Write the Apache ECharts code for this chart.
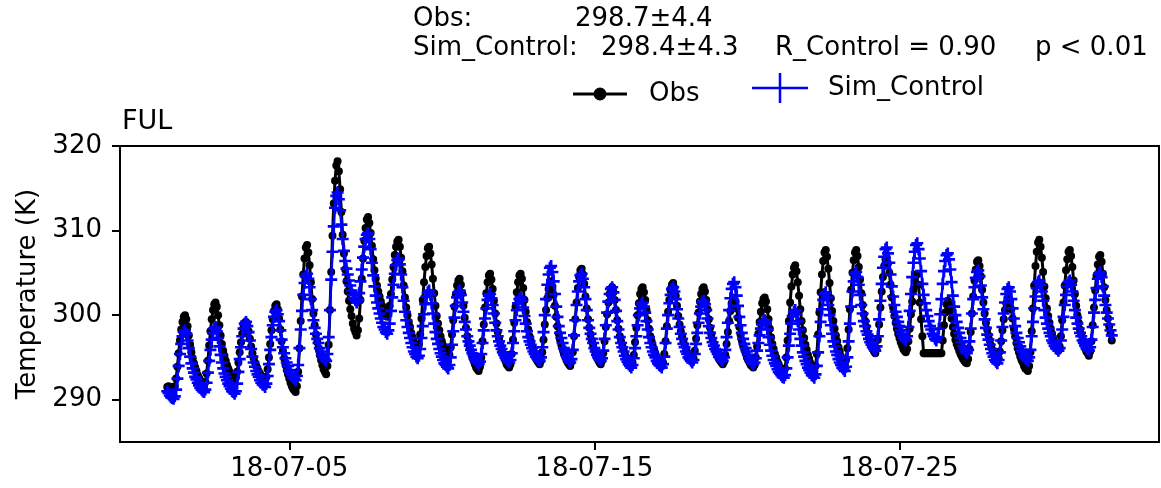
<!DOCTYPE html>
<html><head><meta charset="utf-8">
<script src="https://cdn.jsdelivr.net/npm/echarts@6/dist/echarts.min.js"></script>
<style>html,body{margin:0;padding:0;background:#fff}#chart{width:1161px;height:488px}</style>
</head><body><div id="chart"></div>
<script>
// hourly series starting 2018-07-01 00:00 (x = hours since start)
const tickHours = [96, 336, 576];
const tickLabels = ['18-07-05', '18-07-15', '18-07-25'];
const yTicks = [290, 300, 310, 320];
const headerObs = ['Obs:', '298.7±4.4'];
const headerSim = ['Sim_Control:', '298.4±4.3', 'R_Control = 0.90', 'p < 0.01'];
const siteName = 'FUL';

const obsDaily = [
[291.5,291.6,291.5,291.4,291.3,291.3,291.6,292.5,293.9,295.5,297.0,298.3,299.2,299.8,300.0,299.5,298.7,297.6,296.5,295.6,294.9,294.3,293.8,293.4],
[292.9,292.6,292.3,292.0,291.9,291.7,292.1,293.1,294.6,296.4,298.1,299.5,300.6,301.3,301.5,301.0,300.0,298.8,297.6,296.6,295.8,295.2,294.6,294.1],
[293.7,293.3,293.0,292.7,292.5,292.3,292.6,293.3,294.4,295.6,296.8,297.8,298.6,299.1,299.2,298.8,298.1,297.2,296.3,295.5,294.9,294.4,294.0,293.7],
[293.3,293.1,292.8,292.6,292.4,292.3,292.7,293.6,295.0,296.6,298.2,299.5,300.5,301.1,301.3,300.7,299.6,298.3,296.9,295.8,294.9,294.1,293.5,293.0],
[292.5,292.0,291.6,291.3,291.1,290.9,291.6,293.3,296.1,299.3,302.2,304.8,306.7,308.0,308.3,307.4,305.9,303.9,301.9,300.2,298.8,297.7,296.8,296.1],
[295.3,294.7,294.1,293.6,293.3,293.0,294.0,296.5,300.6,305.1,309.4,313.2,315.9,317.7,318.2,317.0,314.9,312.2,309.5,307.3,305.4,304.0,302.8,301.7],
[300.7,299.9,299.0,298.4,298.0,297.6,298.2,299.6,301.8,304.3,306.7,308.8,310.3,311.3,311.6,310.9,309.7,308.2,306.6,305.3,304.3,303.5,302.8,302.2],
[301.6,301.1,300.6,300.3,300.0,299.8,300.2,301.1,302.5,304.2,305.7,307.1,308.1,308.7,308.9,308.1,306.8,305.2,303.5,302.1,300.9,300.0,299.2,298.6],
[297.9,297.4,296.9,296.5,296.3,296.0,296.5,297.7,299.6,301.8,303.9,305.7,307.0,307.9,308.1,307.3,306.0,304.3,302.6,301.1,299.9,299.0,298.2,297.5],
[296.9,296.4,295.8,295.4,295.2,294.9,295.3,296.2,297.7,299.4,301.0,302.4,303.5,304.1,304.3,303.6,302.6,301.1,299.7,298.5,297.5,296.8,296.1,295.6],
[295.0,294.6,294.2,293.8,293.6,293.4,293.9,295.0,296.9,298.9,300.9,302.6,303.9,304.7,304.9,304.2,303.1,301.7,300.2,299.0,298.0,297.2,296.6,296.0],
[295.5,295.0,294.6,294.2,294.0,293.8,294.2,295.4,297.1,299.1,301.0,302.7,303.9,304.7,304.9,304.3,303.2,301.8,300.4,299.2,298.3,297.5,296.9,296.3],
[295.8,295.4,294.9,294.6,294.4,294.2,294.6,295.6,297.1,298.9,300.6,302.0,303.1,303.8,304.0,303.4,302.4,301.1,299.8,298.7,297.8,297.1,296.5,296.0],
[295.5,295.1,294.7,294.4,294.2,294.0,294.5,295.6,297.5,299.5,301.5,303.2,304.5,305.3,305.5,304.8,303.7,302.2,300.8,299.5,298.5,297.7,297.0,296.5],
[295.9,295.4,295.0,294.7,294.4,294.2,294.6,295.5,296.9,298.6,300.1,301.5,302.5,303.1,303.3,302.7,301.8,300.6,299.4,298.4,297.5,296.9,296.3,295.9],
[295.4,295.0,294.7,294.4,294.2,294.0,294.4,295.3,296.8,298.5,300.0,301.4,302.5,303.1,303.3,302.7,301.8,300.6,299.4,298.4,297.5,296.9,296.3,295.9],
[295.4,295.0,294.7,294.4,294.2,294.0,294.4,295.4,296.9,298.7,300.4,301.8,302.9,303.6,303.8,303.2,302.3,301.1,299.9,298.9,298.1,297.5,296.9,296.4],
[296.0,295.6,295.2,295.0,294.8,294.6,294.9,295.8,297.2,298.8,300.3,301.6,302.5,303.1,303.3,302.8,301.8,300.7,299.5,298.5,297.7,297.0,296.5,296.0],
[295.6,295.2,294.8,294.6,294.4,294.2,294.5,295.3,296.6,298.0,299.3,300.5,301.4,301.9,302.1,301.6,300.8,299.7,298.6,297.7,297.0,296.4,295.9,295.5],
[295.0,294.7,294.4,294.1,294.0,293.8,294.1,295.0,296.3,297.8,299.2,300.4,301.4,301.9,302.1,301.6,300.7,299.5,298.4,297.4,296.6,296.0,295.4,295.0],
[294.5,294.2,293.8,293.6,293.4,293.2,293.7,295.0,297.0,299.3,301.5,303.4,304.8,305.6,305.9,305.2,303.9,302.3,300.7,299.3,298.2,297.3,296.5,295.9],
[295.3,294.8,294.3,293.9,293.7,293.4,294.0,295.4,297.7,300.3,302.7,304.8,306.4,307.4,307.7,306.9,305.5,303.8,302.0,300.5,299.3,298.4,297.6,296.9],
[296.2,295.7,295.1,294.7,294.5,294.2,294.7,296.1,298.3,300.7,303.0,305.0,306.5,307.4,307.7,307.0,305.7,304.2,302.6,301.2,300.1,299.3,298.6,297.9],
[297.3,296.8,296.4,296.0,295.7,295.5,296.0,297.1,298.9,300.9,302.8,304.5,305.8,306.6,306.8,306.1,305.0,303.6,302.1,300.9,299.9,299.1,298.4,297.8],
[297.3,296.8,296.4,296.0,295.8,295.6,296.0,296.9,298.4,300.1,301.6,303.0,304.1,304.7,304.9,303.6,301.5,299.5,297.5,295.5,295.5,295.5,295.5,295.5],
[295.5,295.5,295.5,295.5,295.5,295.5,295.5,295.5,295.5,295.5,297.0,298.8,300.3,301.3,301.7,301.3,300.5,299.6,298.6,297.8,297.1,296.6,296.2,295.8],
[295.4,295.1,294.8,294.6,294.4,294.3,294.8,296.0,298.0,300.2,302.2,304.1,305.4,306.3,306.5,305.8,304.6,303.0,301.5,300.2,299.1,298.3,297.6,297.0],
[296.4,295.9,295.4,295.1,294.8,294.6,294.9,295.7,296.9,298.2,299.5,300.6,301.4,302.0,302.1,301.6,300.7,299.6,298.4,297.5,296.7,296.1,295.6,295.1],
[294.7,294.4,294.0,293.7,293.6,293.4,294.0,295.6,298.1,300.8,303.5,305.8,307.5,308.6,308.9,308.1,306.8,305.1,303.4,302.0,300.8,299.9,299.1,298.4],
[297.8,297.2,296.7,296.3,296.1,295.8,296.3,297.5,299.4,301.5,303.5,305.3,306.6,307.5,307.7,307.0,305.7,304.1,302.5,301.1,300.0,299.1,298.3,297.7],
[297.1,296.6,296.1,295.7,295.5,295.2,295.7,296.9,298.8,300.9,302.9,304.7,306.0,306.9,307.1,306.3,304.9,303.3,301.8,300.6,299.6,298.7,297.8,297.0]
];

const simDaily = [
[291.0,290.8,290.5,290.3,290.2,290.1,290.4,291.2,292.5,294.0,295.4,296.6,297.5,298.0,298.2,297.8,297.0,296.1,295.1,294.3,293.7,293.2,292.7,292.4],
[292.0,291.7,291.4,291.2,291.0,290.9,291.2,292.0,293.2,294.6,295.9,297.1,297.9,298.4,298.6,298.1,297.3,296.3,295.3,294.4,293.7,293.1,292.7,292.3],
[291.9,291.6,291.3,291.0,290.9,290.7,291.0,291.9,293.3,294.8,296.2,297.5,298.4,299.0,299.2,298.7,298.0,297.0,296.0,295.1,294.4,293.9,293.4,293.0],
[292.7,292.3,292.0,291.8,291.7,291.5,291.9,292.8,294.2,295.9,297.4,298.8,299.8,300.4,300.6,300.1,299.3,298.2,297.1,296.2,295.5,294.9,294.4,294.0],
[293.5,293.2,292.9,292.6,292.5,292.3,292.8,294.1,296.1,298.3,300.5,302.4,303.8,304.6,304.9,304.3,303.3,301.9,300.6,299.4,298.5,297.8,297.2,296.7],
[296.1,295.7,295.3,295.0,294.8,294.6,295.4,297.4,300.6,304.2,307.5,310.5,312.7,314.1,314.5,313.7,312.4,310.7,309.0,307.6,306.4,305.5,304.8,304.1],
[303.5,302.9,302.4,302.0,301.8,301.5,301.8,302.6,304.0,305.4,306.8,308.1,309.0,309.5,309.7,309.0,307.8,306.2,304.7,303.4,302.3,301.5,300.8,300.2],
[299.6,299.1,298.6,298.3,298.0,297.8,298.2,299.0,300.5,302.1,303.6,304.9,305.9,306.5,306.7,306.0,304.8,303.3,301.7,300.4,299.4,298.6,297.9,297.3],
[296.7,296.2,295.7,295.4,295.1,294.9,295.2,296.0,297.3,298.7,300.1,301.3,302.2,302.7,302.9,302.4,301.4,300.2,299.0,298.0,297.2,296.6,296.0,295.5],
[295.1,294.7,294.3,294.1,293.9,293.7,294.1,295.0,296.5,298.1,299.7,301.1,302.1,302.7,302.9,302.4,301.5,300.4,299.2,298.3,297.5,296.9,296.4,295.9],
[295.5,295.2,294.8,294.5,294.4,294.2,294.5,295.4,296.7,298.2,299.6,300.8,301.8,302.3,302.5,302.0,301.2,300.2,299.1,298.2,297.5,296.9,296.4,296.0],
[295.6,295.3,295.0,294.7,294.6,294.4,294.7,295.5,296.7,298.1,299.4,300.6,301.4,301.9,302.1,301.7,300.9,299.9,299.0,298.1,297.4,296.9,296.5,296.1],
[295.7,295.4,295.1,294.9,294.7,294.6,295.0,296.2,298.0,300.0,301.9,303.6,304.8,305.6,305.8,305.1,304.0,302.5,301.0,299.8,298.7,297.9,297.3,296.7],
[296.1,295.7,295.2,294.9,294.6,294.4,294.8,295.9,297.6,299.4,301.2,302.8,304.0,304.7,304.9,304.3,303.3,301.9,300.6,299.4,298.5,297.8,297.2,296.7],
[296.1,295.7,295.3,295.0,294.8,294.6,294.9,295.8,297.2,298.8,300.3,301.6,302.5,303.1,303.3,302.7,301.8,300.5,299.3,298.3,297.4,296.7,296.2,295.7],
[295.2,294.8,294.5,294.2,294.0,293.8,294.1,294.9,296.1,297.5,298.8,300.0,300.8,301.3,301.5,301.0,300.3,299.3,298.3,297.4,296.7,296.2,295.7,295.3],
[295.0,294.6,294.3,294.1,294.0,293.8,294.2,295.1,296.7,298.4,300.0,301.4,302.4,303.1,303.3,302.8,301.9,300.7,299.6,298.6,297.8,297.2,296.6,296.2],
[295.7,295.4,295.0,294.8,294.6,294.4,294.7,295.4,296.6,297.9,299.1,300.2,301.0,301.6,301.7,301.3,300.6,299.6,298.7,297.9,297.3,296.8,296.4,296.0],
[295.7,295.4,295.1,294.9,294.7,294.6,295.0,295.9,297.4,299.1,300.6,302.0,303.1,303.7,303.9,303.3,302.3,301.1,299.8,298.8,297.9,297.2,296.6,296.1],
[295.7,295.3,294.9,294.6,294.4,294.2,294.4,294.9,295.8,296.7,297.6,298.4,298.9,299.3,299.4,299.0,298.3,297.4,296.5,295.8,295.2,294.7,294.3,294.0],
[293.6,293.3,293.1,292.9,292.7,292.6,292.9,293.7,295.0,296.4,297.8,299.0,299.9,300.4,300.6,300.1,299.3,298.3,297.2,296.4,295.6,295.1,294.6,294.2],
[293.8,293.5,293.2,292.9,292.8,292.6,293.0,294.0,295.6,297.5,299.2,300.7,301.8,302.5,302.7,302.1,301.2,300.0,298.8,297.8,296.9,296.3,295.7,295.3],
[294.8,294.4,294.1,293.8,293.6,293.4,293.9,295.0,296.9,299.0,301.0,302.8,304.0,304.9,305.1,304.5,303.6,302.4,301.2,300.2,299.3,298.7,298.1,297.7],
[297.2,296.8,296.5,296.2,296.0,295.8,296.3,297.5,299.5,301.7,303.7,305.6,306.9,307.8,308.0,307.3,306.2,304.8,303.4,302.2,301.2,300.4,299.8,299.2],
[298.7,298.2,297.8,297.4,297.2,297.0,297.5,298.6,300.5,302.5,304.5,306.2,307.5,308.3,308.5,307.8,306.7,305.2,303.7,302.4,301.4,300.6,299.9,299.3],
[298.7,298.3,297.8,297.5,297.2,297.0,297.4,298.4,300.1,301.9,303.7,305.2,306.4,307.1,307.3,306.6,305.4,303.9,302.3,301.0,300.0,299.2,298.5,297.9],
[297.3,296.8,296.3,296.0,295.7,295.5,295.9,296.9,298.4,300.2,301.9,303.3,304.4,305.1,305.3,304.6,303.5,302.1,300.7,299.5,298.5,297.7,297.1,296.5],
[296.0,295.5,295.1,294.7,294.5,294.3,294.7,295.6,297.0,298.6,300.2,301.5,302.5,303.1,303.3,302.8,301.9,300.8,299.6,298.7,297.9,297.3,296.8,296.3],
[295.9,295.6,295.2,294.9,294.8,294.6,295.0,295.9,297.5,299.2,300.8,302.2,303.2,303.9,304.1,303.6,302.8,301.7,300.6,299.7,299.0,298.4,297.9,297.5],
[297.0,296.7,296.4,296.1,296.0,295.8,296.1,297.0,298.3,299.8,301.2,302.4,303.4,303.9,304.1,303.6,302.8,301.7,300.6,299.7,299.0,298.4,297.9,297.5],
[297.0,296.7,296.4,296.1,296.0,295.8,296.2,297.1,298.6,300.3,301.8,303.2,304.3,304.9,305.1,304.5,303.4,302.3,301.2,300.3,299.6,298.9,298.2,297.6]
];

const obsPts = obsDaily.flat().map((v, i) => [i, v]);
const simPts = simDaily.flat().map((v, i) => [i, v]);

const FONT = 'DejaVu Sans';
const FS = 26;
const ts = (size) => ({ fontFamily: FONT, fontSize: size || FS, fontWeight: 'normal', color: '#000' });
const txt = (text, left, top, size) => ({ text, left, top, padding: 0, textStyle: ts(size) });

const obsIcon = 'path://M0,5.5H54V8.5H0Z M33.5,7L33,9.49L31.6,11.6L29.49,13L27,13.5L24.51,13L22.4,11.6L21,9.49L20.5,7L21,4.51L22.4,2.4L24.51,1L27,0.5L29.49,1L31.6,2.4L33,4.51Z';
const simIcon = 'path://M0,13.75H56V16.25H0Z M26.75,0H29.25V30H26.75Z';

const chart = echarts.init(document.getElementById('chart'), null, { renderer: 'canvas' });
chart.setOption({
  animation: false,
  backgroundColor: '#fff',
  title: [
    txt(headerObs[0], 413, 6), txt(headerObs[1], 575, 6),
    txt(headerSim[0], 413, 35), txt(headerSim[1], 601, 35),
    txt(headerSim[2], 775, 35), txt(headerSim[3], 1035, 35),
    txt(siteName, 122, 108, 27)
  ],
  legend: [
    { data: [{ name: 'Obs', icon: obsIcon }],
      left: 573, top: 81, itemWidth: 54, itemHeight: 14, padding: 0,
      textStyle: Object.assign(ts(FS), { padding: [0, 0, 0, 17] }) },
    { data: [{ name: 'Sim_Control', icon: simIcon }], left: 752, top: 73,
      itemWidth: 56, itemHeight: 30, padding: 0,
      textStyle: Object.assign(ts(FS), { padding: [0, 0, 0, 15] }) }
  ],
  grid: { left: 120, right: 2, top: 146, bottom: 46, show: true, borderColor: '#000', borderWidth: 2, backgroundColor: 'transparent' },
  xAxis: {
    type: 'value', min: -37.15, max: 780.15,
    axisLine: { show: true, onZero: false, lineStyle: { color: '#000', width: 2 } },
    axisTick: { show: true, customValues: tickHours, length: 8, lineStyle: { color: '#000', width: 2 } },
    axisLabel: { customValues: tickHours, formatter: v => tickLabels[tickHours.indexOf(Math.round(v))] || '',
      fontFamily: FONT, fontSize: FS, color: '#000', margin: 14 },
    splitLine: { show: false }
  },
  yAxis: {
    type: 'value', min: 285, max: 320,
    name: 'Temperature (K)', nameLocation: 'middle', nameGap: 77, nameTextStyle: ts(FS),
    axisLine: { show: true, onZero: false, lineStyle: { color: '#000', width: 2 } },
    axisTick: { show: true, customValues: yTicks, length: 8, lineStyle: { color: '#000', width: 2 } },
    axisLabel: { customValues: yTicks, fontFamily: FONT, fontSize: FS, color: '#000', margin: 18 },
    splitLine: { show: false }
  },
  series: [
    { name: 'Obs', type: 'line', data: obsPts, symbol: 'circle', symbolSize: 8,
      itemStyle: { color: '#000' }, lineStyle: { color: '#000', width: 3 }, z: 2 },
    { name: 'Sim_Control', type: 'line', data: simPts, symbol: 'path://M-5,-1.1H5V1.1H-5Z M-1.1,-5H1.1V5H-1.1Z', symbolSize: 12,
      itemStyle: { color: '#0000ff' }, lineStyle: { color: '#0000ff', width: 2.5 }, z: 3 }
  ]
});
</script>
</body></html>
